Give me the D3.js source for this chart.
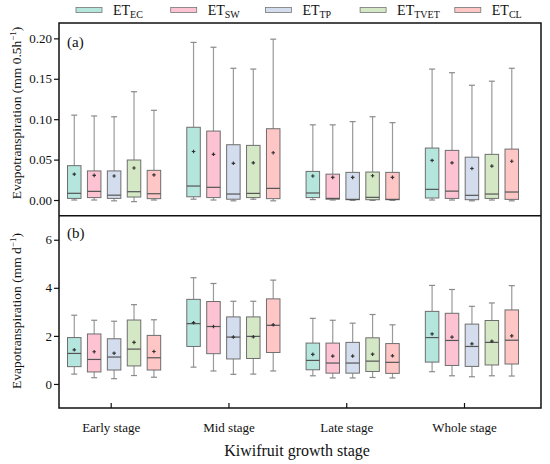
<!DOCTYPE html>
<html>
<head>
<meta charset="utf-8">
<script src="https://cdn.jsdelivr.net/npm/d3@7"></script>
<style>
  body { margin: 0; background: #fff; }
  text { font-family: "Liberation Serif", "Times New Roman", serif; fill: #111; }
</style>
</head>
<body>
<div id="chart"></div>
<script>
var width = 550, height = 464;

var stages = ["Early stage", "Mid stage", "Late stage", "Whole stage"];
var seriesNames = ["EC", "SW", "TP", "TVET", "CL"];
var seriesColors = ["#b5e6de", "#fdc3d3", "#d4ddee", "#d5e8c6", "#ffc6c6"];
var ticksA = [0, 0.05, 0.10, 0.15, 0.20];
var ticksB = [0, 2, 4, 6];

// each row: [low, q1, median, q3, high, mean], one row per stage
var halfHourEC   = [[0.000, 0.002, 0.0083, 0.0425, 0.105, 0.032], [0.001, 0.004, 0.0173, 0.090, 0.195, 0.060], [0.0005, 0.003, 0.0087, 0.0354, 0.093, 0.0297], [0.000, 0.0025, 0.0132, 0.0643, 0.162, 0.049]];
var halfHourSW   = [[0.000, 0.003, 0.0107, 0.036, 0.104, 0.0305], [0.000, 0.003, 0.0157, 0.0853, 0.189, 0.0565], [0.000, 0.001, 0.002, 0.032, 0.093, 0.028], [0.000, 0.002, 0.011, 0.0614, 0.1575, 0.046]];
var halfHourTP   = [[-0.001, 0.002, 0.006, 0.036, 0.103, 0.0297], [-0.001, 0.001, 0.0074, 0.0684, 0.163, 0.0454], [-0.0005, 0.0004, 0.0008, 0.0342, 0.097, 0.028], [-0.001, 0.0004, 0.0058, 0.053, 0.142, 0.039]];
var halfHourTVET = [[-0.002, 0.0037, 0.0103, 0.0495, 0.134, 0.0396], [0.001, 0.003, 0.0082, 0.0676, 0.162, 0.046], [-0.0005, 0.0004, 0.0033, 0.0346, 0.103, 0.030], [0.000, 0.002, 0.0074, 0.0565, 0.147, 0.042]];
var halfHourCL   = [[0.000, 0.0017, 0.0078, 0.0367, 0.111, 0.031], [-0.001, 0.0017, 0.0144, 0.0882, 0.199, 0.0585], [-0.0005, 0.0004, 0.0008, 0.0342, 0.0957, 0.028], [-0.001, 0.0008, 0.0099, 0.063, 0.163, 0.048]];

var dailyEC   = [[0.41, 0.72, 1.27, 1.93, 2.86, 1.42], [0.70, 1.56, 2.51, 3.52, 4.42, 2.55], [0.34, 0.59, 0.98, 1.70, 2.73, 1.23], [0.51, 0.91, 1.93, 3.02, 4.10, 2.08]];
var dailySW   = [[0.26, 0.50, 1.02, 2.08, 2.65, 1.34], [0.54, 1.26, 2.39, 3.43, 4.18, 2.39], [0.25, 0.45, 0.87, 1.70, 2.65, 1.16], [0.34, 0.77, 1.81, 2.94, 3.93, 1.95]];
var dailyTP   = [[0.22, 0.58, 1.12, 1.88, 2.61, 1.28], [0.40, 1.04, 1.95, 2.79, 3.44, 1.95], [0.25, 0.45, 0.87, 1.73, 2.53, 1.16], [0.30, 0.73, 1.56, 2.49, 3.23, 1.67]];
var dailyTVET = [[0.35, 0.75, 1.45, 2.66, 3.30, 1.73], [0.41, 1.06, 1.98, 2.79, 3.44, 1.96], [0.27, 0.52, 0.95, 1.92, 2.89, 1.24], [0.34, 0.79, 1.73, 2.64, 3.37, 1.78]];
var dailyCL   = [[0.28, 0.58, 1.09, 2.02, 2.67, 1.35], [0.54, 1.31, 2.44, 3.54, 4.32, 2.46], [0.25, 0.44, 0.90, 1.68, 2.46, 1.17], [0.33, 0.83, 1.82, 3.08, 4.09, 2.00]];

var halfHourData = [halfHourEC, halfHourSW, halfHourTP, halfHourTVET, halfHourCL];
var dailyData = [dailyEC, dailySW, dailyTP, dailyTVET, dailyCL];

var left = 59, right = 541, topA = 23, mid = 215.7, bottom = 408;

var svg = d3.select("#chart").append("svg")
	.attr("width", width)
	.attr("height", height);

// groups sit on a linear scale, the stage ticks on their own point scale (as in the original plot)
var x = d3.scaleLinear().domain([-0.462, 3.579]).range([left, right]);
var xTicks = d3.scalePoint().domain(stages).range([110.7, 464]);
var offset = 0.167, boxW = 13.5;

var yA = d3.scaleLinear().domain([-0.0194, 0.219]).range([mid, topA]);
var yB = d3.scaleLinear().domain([-1, 7]).range([bottom, mid]);

function drawPanel(data, y){
	var g = svg.append("g");
	data.forEach(function(rows, s){
		rows.forEach(function(d, i){
			var cx = x(i + (s - 2) * offset);
			var box = g.append("g");
			// whiskers
			box.append("line")
				.attr("x1", cx).attr("x2", cx)
				.attr("y1", y(d[4])).attr("y2", y(d[3]))
				.style("stroke", "#9a9a9a").style("stroke-width", 1.2);
			box.append("line")
				.attr("x1", cx).attr("x2", cx)
				.attr("y1", y(d[1])).attr("y2", y(d[0]))
				.style("stroke", "#9a9a9a").style("stroke-width", 1.2);
			[d[0], d[4]].forEach(function(v){
				box.append("line")
					.attr("x1", cx - 3).attr("x2", cx + 3)
					.attr("y1", y(v)).attr("y2", y(v))
					.style("stroke", "#8a8a8a").style("stroke-width", 1.2);
			});
			box.append("rect")
				.attr("x", cx - boxW / 2)
				.attr("width", boxW)
				.attr("y", y(d[3]))
				.attr("height", Math.max(0.5, y(d[1]) - y(d[3])))
				.style("fill", seriesColors[s])
				.style("stroke", "#6e6e6e")
				.style("stroke-width", 1);
			box.append("line")
				.attr("x1", cx - boxW / 2).attr("x2", cx + boxW / 2)
				.attr("y1", y(d[2])).attr("y2", y(d[2]))
				.style("stroke", "#555").style("stroke-width", 1.2);
			// mean marker
			box.append("path")
				.attr("d", d3.symbol(d3.symbolCross, 7)())
				.attr("transform", "translate(" + cx + "," + y(d[5]) + ")")
				.style("fill", "#333");
		});
	});
}

drawPanel(halfHourData, yA);
drawPanel(dailyData, yB);

// axes
var axisA = svg.append("g")
	.attr("transform", "translate(" + left + ",0)")
	.call(d3.axisLeft(yA).tickValues(ticksA).tickFormat(d3.format(".2f")).tickSize(5).tickPadding(2));
var axisB = svg.append("g")
	.attr("transform", "translate(" + left + ",0)")
	.call(d3.axisLeft(yB).tickValues(ticksB).tickFormat(d3.format("d")).tickSize(5).tickPadding(2));
var axisX = svg.append("g")
	.attr("transform", "translate(0," + bottom + ")")
	.call(d3.axisBottom(xTicks).tickSize(-5).tickPadding(12));

[axisA, axisB, axisX].forEach(function(a){
	a.select(".domain").remove();
	a.selectAll(".tick line").style("stroke", "#111").style("stroke-width", 1.2);
	a.selectAll("text")
		.style("font-family", "Liberation Serif")
		.style("font-size", "13px")
		.style("fill", "#111");
});
axisX.selectAll("text").attr("dy", "0.9em");

// frames
svg.append("rect")
	.attr("x", left).attr("y", topA)
	.attr("width", right - left).attr("height", bottom - topA)
	.style("fill", "none").style("stroke", "#111").style("stroke-width", 1.5);
svg.append("line")
	.attr("x1", left).attr("x2", right)
	.attr("y1", mid).attr("y2", mid)
	.style("stroke", "#111").style("stroke-width", 1.5);

// panel labels
svg.append("text").attr("x", 67).attr("y", 47).style("font-size", "15px").text("(a)");
svg.append("text").attr("x", 67).attr("y", 238).style("font-size", "15px").text("(b)");

// y titles
var titleA = svg.append("text")
	.attr("transform", "translate(21,113) rotate(-90)")
	.style("text-anchor", "middle")
	.style("font-size", "13.5px");
titleA.append("tspan").text("Evapotranspiration (mm 0.5h");
titleA.append("tspan").attr("dy", -5).style("font-size", "9px").text("\u22121");
titleA.append("tspan").attr("dy", 5).text(")");

var titleB = svg.append("text")
	.attr("transform", "translate(21,311) rotate(-90)")
	.style("text-anchor", "middle")
	.style("font-size", "13.5px");
titleB.append("tspan").text("Evapotranspiration (mm d");
titleB.append("tspan").attr("dy", -5).style("font-size", "9px").text("\u22121");
titleB.append("tspan").attr("dy", 5).text(")");

// x title
svg.append("text")
	.attr("x", (left + right) / 2 - 3)
	.attr("y", 456)
	.style("text-anchor", "middle")
	.style("font-size", "16px")
	.text("Kiwifruit growth stage");

// legend
var legend = svg.append("g");
seriesNames.forEach(function(name, i){
	var lx = 76 + i * 94.7;
	legend.append("rect")
		.attr("x", lx).attr("y", 7.5)
		.attr("width", 26).attr("height", 5)
		.style("fill", seriesColors[i])
		.style("stroke", "#777").style("stroke-width", 0.8);
	var t = legend.append("text")
		.attr("x", lx + 37).attr("y", 15)
		.style("font-size", "14px");
	t.append("tspan").text("ET");
	t.append("tspan").attr("dy", 3).style("font-size", "10px").text(name);
});
</script>
</body>
</html>
